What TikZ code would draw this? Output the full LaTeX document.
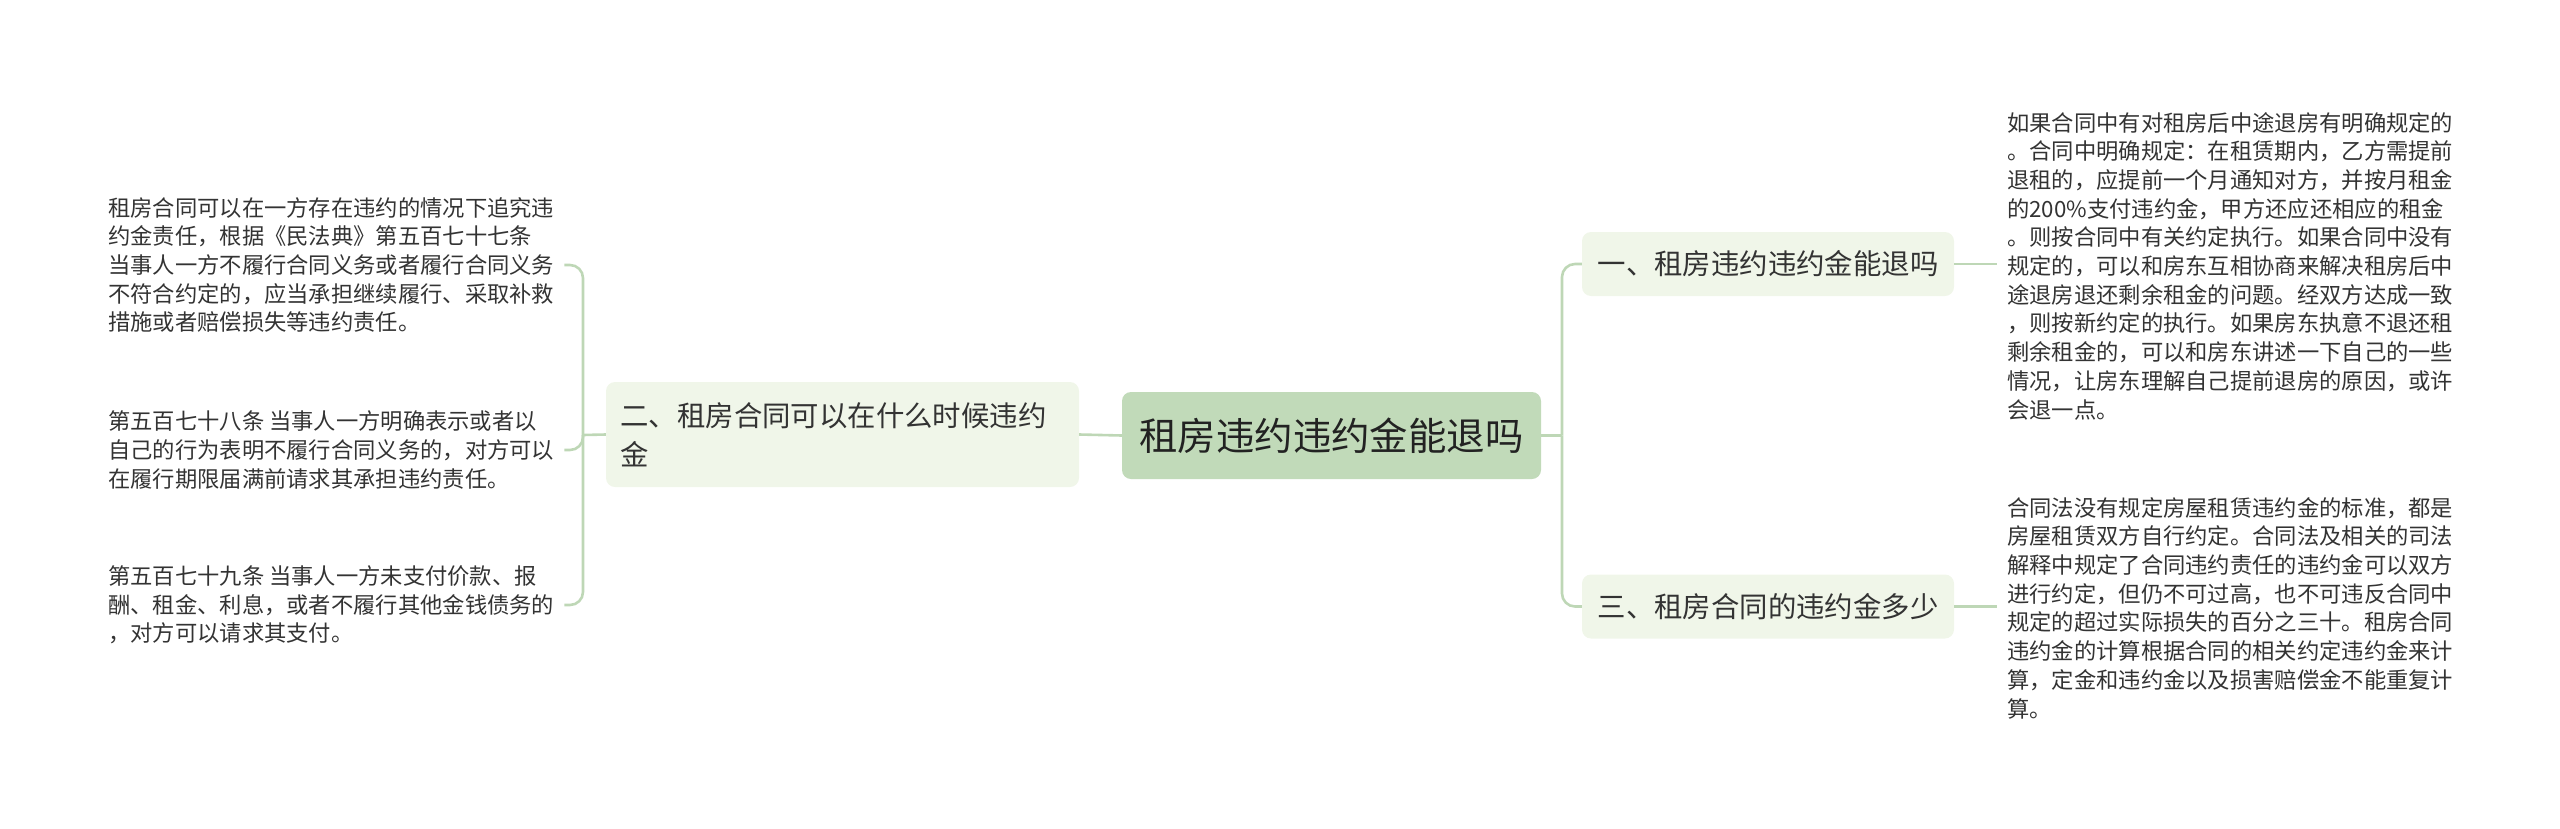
\documentclass[tikz,border=0pt]{standalone}
\usepackage{fontspec}
\setmainfont{Noto Sans CJK SC}
\definecolor{rootC}{RGB}{193,218,185}
\definecolor{branchC}{RGB}{240,246,233}
\definecolor{lineC}{RGB}{190,215,182}
\definecolor{textC}{RGB}{51,51,51}
\definecolor{rootT}{RGB}{34,34,34}
\begin{document}
\begin{tikzpicture}[x=1pt,y=-1pt,
  conn/.style={draw=lineC, line width=2.6pt},
  rootbox/.style={fill=rootC, rounded corners=9pt, minimum width=419pt, minimum height=87pt, inner sep=0pt, font=\fontsize{38.4}{46}\selectfont, text=rootT},
  branchbox/.style={fill=branchC, rounded corners=9pt, inner sep=0pt, font=\fontsize{28.4}{39}\selectfont, text=textC},
  leaf/.style={inner xsep=10pt, inner ysep=0pt, align=left, font=\fontsize{22.3}{28.7}\selectfont, text=textC}]
\useasboundingbox (0,0) rectangle (2560,828);
\node[rootbox] (root) at (1331.5,435.5) {租房违约违约金能退吗};
\node[branchbox, minimum width=372pt, minimum height=64pt] (b1) at (1768,264) {一、租房违约违约金能退吗};
\node[branchbox, minimum width=372pt, minimum height=64pt] (b3) at (1768,606.5) {三、租房合同的违约金多少};
\node[branchbox, text width=444pt, inner xsep=14.5pt, minimum height=105pt, align=left] (b2) at (842.5,434.5) {二、租房合同可以在什么时候违约\\金};
\node[leaf, anchor=west] (r1) at (1997,266) {如果合同中有对租房后中途退房有明确规定的\\。合同中明确规定：在租赁期内，乙方需提前\\退租的，应提前一个月通知对方，并按月租金\\的200\%支付违约金，甲方还应还相应的租金\\。则按合同中有关约定执行。如果合同中没有\\规定的，可以和房东互相协商来解决租房后中\\途退房退还剩余租金的问题。经双方达成一致\\，则按新约定的执行。如果房东执意不退还租\\剩余租金的，可以和房东讲述一下自己的一些\\情况，让房东理解自己提前退房的原因，或许\\会退一点。};
\node[leaf, anchor=west] (r2) at (1997,608) {合同法没有规定房屋租赁违约金的标准，都是\\房屋租赁双方自行约定。合同法及相关的司法\\解释中规定了合同违约责任的违约金可以双方\\进行约定，但仍不可过高，也不可违反合同中\\规定的超过实际损失的百分之三十。租房合同\\违约金的计算根据合同的相关约定违约金来计\\算，定金和违约金以及损害赔偿金不能重复计\\算。};
\node[leaf, anchor=west] (l1) at (98,265) {租房合同可以在一方存在违约的情况下追究违\\约金责任，根据《民法典》第五百七十七条\\当事人一方不履行合同义务或者履行合同义务\\不符合约定的，应当承担继续履行、采取补救\\措施或者赔偿损失等违约责任。};
\node[leaf, anchor=west] (l2) at (98,450) {第五百七十八条 当事人一方明确表示或者以\\自己的行为表明不履行合同义务的，对方可以\\在履行期限届满前请求其承担违约责任。};
\node[leaf, anchor=west] (l3) at (98,605) {第五百七十九条 当事人一方未支付价款、报\\酬、租金、利息，或者不履行其他金钱债务的\\，对方可以请求其支付。};
\coordinate (rj) at (1562,435.5);
\coordinate (lj) at (583,435);
\draw[conn] (root.east) -- (rj);
\draw[conn, rounded corners=13pt] (rj) |- (b1.west);
\draw[conn, rounded corners=13pt] (rj) |- (b3.west);
\draw[conn] (b1.east) -- (b1.east -| r1.west);
\draw[conn] (b3.east) -- (b3.east -| r2.west);
\draw[conn] (b2.west) -- (lj);
\draw[conn] (root.west) -- (b2.east);
\draw[conn, rounded corners=13pt] (lj) |- (l1.east);
\draw[conn, rounded corners=13pt] (lj) |- (l2.east);
\draw[conn, rounded corners=13pt] (lj) |- (l3.east);
\end{tikzpicture}
\end{document}
